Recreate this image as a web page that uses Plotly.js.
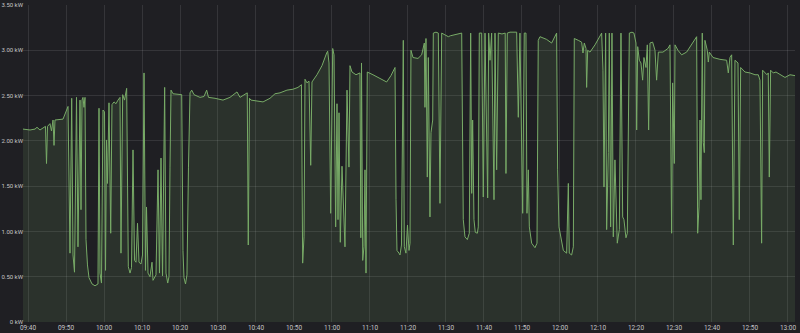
<!DOCTYPE html>
<html><head><meta charset="utf-8">
<script src="https://cdn.plot.ly/plotly-3.0.1.min.js"></script>
<style>html,body{margin:0;padding:0;background:#1f1f23;overflow:hidden;} #chart{width:800px;height:333px;}</style>
</head><body><div id="chart"></div>
<script>
const day = "2024-01-01 ";
const times = [
"09:38:41","09:40:32","09:41:51","09:42:22","09:43:09","09:44:13","09:44:36","09:44:52","09:45:08","09:45:47",
"09:46:11","09:46:35","09:46:51","09:47:06","09:49:13","09:50:32","09:51:03","09:51:30","09:51:51","09:52:14",
"09:52:46","09:53:09","09:53:41","09:53:57","09:54:13","09:54:28","09:54:44","09:55:00","09:55:16","09:55:39",
"09:56:03","09:56:51","09:57:38","09:58:25","09:58:41","09:58:57","09:59:20","09:59:44","10:00:08","10:00:24",
"10:00:39","10:00:55","10:01:19","10:01:46","10:02:06","10:02:38","10:03:09","10:03:41","10:04:13","10:04:28",
"10:04:55","10:05:24","10:05:58","10:06:24","10:06:51","10:07:14","10:07:38","10:08:02","10:08:25","10:08:49",
"10:09:13","10:09:44","10:10:08","10:10:32","10:10:55","10:11:11","10:11:35","10:12:06","10:12:38","10:12:54",
"10:13:41","10:14:13","10:14:36","10:15:00","10:15:24","10:15:58","10:16:19","10:16:46","10:17:06","10:17:22",
"10:17:38","10:18:10","10:19:28","10:20:27","10:20:47","10:21:03","10:21:27","10:21:50","10:22:14","10:22:38",
"10:23:05","10:23:41","10:25:16","10:26:19","10:27:01","10:27:30","10:29:13","10:31:19","10:33:09","10:35:00",
"10:35:47","10:37:42","10:37:58","10:38:17","10:38:41","10:40:11","10:41:51","10:43:41","10:45:00","10:46:19",
"10:48:09","10:49:44","10:51:03","10:51:58","10:52:17","10:52:38","10:52:54","10:53:25","10:53:57","10:54:24",
"10:54:44","10:56:03","10:57:22","10:58:36","10:58:52","10:59:13","10:59:39","11:00:11","11:00:32","11:00:58",
"11:01:19","11:01:35","11:01:51","11:02:11","11:02:38","11:03:25","11:03:57","11:04:28","11:04:44","11:05:16",
"11:06:19","11:07:22","11:07:35","11:07:46","11:08:05","11:08:25","11:08:41","11:08:57","11:09:17","11:10:47",
"11:12:38","11:14:23","11:15:31","11:16:35","11:16:51","11:17:06","11:17:38","11:17:54","11:18:17","11:18:46",
"11:19:02","11:19:28","11:19:52","11:20:16","11:20:32","11:20:47","11:21:19","11:22:38","11:23:36","11:24:02",
"11:24:18","11:24:28","11:24:44","11:25:05","11:25:21","11:25:47","11:26:03","11:26:30","11:26:40","11:27:22",
"11:27:59","11:28:25","11:28:52","11:29:44","11:30:37","11:31:08","11:32:22","11:34:08","11:34:33","11:35:00",
"11:35:37","11:36:08","11:36:30","11:36:46","11:37:01","11:37:22","11:37:43","11:38:15","11:38:30","11:38:46",
"11:39:24","11:39:49","11:40:16","11:40:42","11:40:58","11:41:14","11:41:35","11:42:01","11:42:17","11:42:38",
"11:42:54","11:43:20","11:43:46","11:44:44","11:45:35","11:45:47","11:46:08","11:46:51","11:48:36","11:49:02","11:49:28",
"11:50:11","11:50:36","11:51:03","11:51:19","11:51:40","11:51:56","11:52:33","11:53:25","11:53:57","11:54:17",
"11:54:44","11:56:29","11:57:48","11:59:07","11:59:23","11:59:44","12:00:11","12:00:53","12:01:45","12:02:12",
"12:02:27","12:03:04","12:03:31","12:03:46","12:04:49","12:05:42","12:06:03","12:06:24","12:06:51","12:07:01",
"12:07:17","12:07:54","12:09:13","12:10:32","12:10:58","12:11:19","12:11:35","12:12:01","12:12:17","12:12:43",
"12:12:59","12:13:20","12:13:41","12:14:02","12:14:28","12:15:05","12:15:37","12:16:03","12:16:30","12:16:50",
"12:17:22","12:17:43","12:17:59","12:18:15","12:18:57","12:19:28","12:20:00","12:20:11","12:20:27","12:20:53",
"12:21:19","12:21:45","12:22:06","12:22:38","12:22:59","12:23:20","12:23:41","12:24:23","12:25:00","12:25:26",
"12:25:53","12:27:06","12:28:25","12:28:57","12:29:23","12:29:39","12:30:05","12:30:16","12:31:03","12:32:01",
"12:33:20","12:35:05","12:35:58","12:36:14","12:36:35","12:36:51","12:37:06","12:37:27","12:37:43","12:37:59",
"12:38:09","12:38:46","12:39:02","12:39:18","12:40:16","12:42:06","12:43:52","12:44:18","12:44:44","12:45:11",
"12:45:26","12:45:37","12:46:03","12:46:51","12:47:11","12:47:33","12:48:41","12:50:00","12:51:19","12:52:11",
"12:52:38","12:53:04","12:53:20","12:53:57","12:54:28","12:54:49","12:55:05","12:55:26","12:56:08","12:56:51",
"12:57:54","12:59:13","13:00:32","13:01:51"
];
const powerKW = [
2.13,2.12,2.13,2.15,2.12,2.15,2.16,1.75,2.16,2.19,
2.11,2.23,1.95,2.23,2.24,2.38,0.76,2.47,0.74,0.55,
2.48,0.83,2.45,1.24,2.45,2.48,2.37,2.48,0.91,0.63,
0.49,0.42,0.40,0.42,2.36,0.54,0.43,2.34,2.32,0.57,
2.01,1.53,2.42,0.98,2.40,2.43,2.41,2.45,2.48,0.76,
2.51,2.45,2.58,0.61,0.54,0.60,1.90,0.68,0.66,1.09,
0.66,0.64,0.74,2.75,0.57,1.27,0.54,0.50,0.66,0.46,
0.52,1.68,0.54,1.81,0.51,2.59,0.54,0.43,0.50,1.71,
2.56,2.52,2.51,2.51,0.79,0.49,0.42,0.52,1.71,2.53,
2.56,2.51,2.48,2.49,2.56,2.48,2.47,2.45,2.48,2.54,
2.48,2.53,0.85,2.47,2.45,2.44,2.43,2.47,2.52,2.53,
2.56,2.57,2.59,2.62,0.65,0.94,2.68,2.64,2.66,1.73,
2.65,2.73,2.83,2.97,2.99,2.86,1.20,3.02,2.95,1.05,
2.41,1.13,2.31,0.88,1.72,0.83,2.56,1.71,2.83,2.76,
2.73,2.75,0.93,2.86,0.68,0.83,1.68,0.54,2.76,2.73,
2.69,2.65,2.72,2.81,1.35,0.79,0.76,0.74,0.85,3.11,
0.83,0.76,1.07,0.79,0.87,3.00,2.92,2.91,2.95,3.02,
3.08,2.37,3.13,1.60,2.92,1.16,2.09,2.23,3.19,3.20,
3.19,1.31,3.19,3.17,3.15,3.16,3.17,3.19,1.13,0.94,
0.91,0.98,3.19,1.42,2.23,1.13,0.99,0.98,1.05,3.19,
3.19,1.38,3.19,1.87,1.37,3.19,2.89,3.19,2.23,1.35,
3.19,1.68,3.19,3.18,3.19,1.64,3.19,3.20,3.20,2.26,3.19,
1.20,3.19,3.19,1.20,1.68,1.05,0.87,0.82,0.87,3.11,
3.15,3.12,3.08,3.19,1.68,1.05,0.94,0.79,0.76,1.53,
0.76,0.74,0.83,3.13,3.11,3.09,2.97,3.08,3.02,2.59,
3.00,2.98,3.06,3.15,3.19,2.78,1.49,3.19,1.02,1.87,
3.19,1.05,3.19,0.94,1.79,0.87,1.02,3.19,1.16,1.13,
0.93,0.98,2.34,3.19,3.20,3.19,3.08,2.12,3.04,2.89,
2.86,2.67,2.92,2.81,3.06,2.12,3.08,3.09,3.00,2.67,
2.98,2.98,3.02,3.06,0.98,2.64,1.75,3.06,3.00,2.95,
2.98,3.09,3.15,0.98,1.27,2.23,1.35,3.19,1.98,1.87,
3.11,3.00,2.87,2.98,2.92,2.90,2.89,2.75,2.92,2.95,
1.24,0.85,2.89,2.86,1.13,2.81,2.76,2.75,2.73,2.73,
2.67,0.87,2.78,2.75,2.73,2.75,1.60,2.78,2.75,2.76,
2.73,2.70,2.73,2.72
];
const yTickVals = [0, 0.5, 1, 1.5, 2, 2.5, 3, 3.5];
const yTickText = ["0 kW", "0.50 kW", "1.00 kW", "1.50 kW", "2.00 kW", "2.50 kW", "3.00 kW", "3.50 kW"];
const xRange = ["09:38:41", "13:01:51"];

const trace = {
  type: "scatter", mode: "lines",
  x: times.map(t => day + t), y: powerKW,
  line: {color: "#78ab67", width: 1},
  fill: "tozeroy", fillcolor: "rgba(126,178,109,0.13)",
  hoverinfo: "skip"
};
const grid = "rgba(255,255,255,0.10)";
const layout = {
  width: 800, height: 333,
  margin: {l: 23, r: 5, t: 5, b: 11},
  paper_bgcolor: "#1f1f23", plot_bgcolor: "#1f1f23",
  font: {family: "Roboto, sans-serif", size: 6, color: "#c4c4c6"},
  showlegend: false,
  xaxis: {
    type: "date", range: xRange.map(t => day + t),
    tickformat: "%H:%M", tick0: day + "09:40:00", dtick: 600000,
    showgrid: true, gridcolor: grid, gridwidth: 1,
    zeroline: false, showline: false, ticks: "", automargin: false,
    tickfont: {size: 6.5, color: "#c4c4c6"}
  },
  yaxis: {
    range: [0, 3.5], tickmode: "array", tickvals: yTickVals, ticktext: yTickText,
    showgrid: true, gridcolor: grid, gridwidth: 1,
    zeroline: false, showline: false, ticks: "", automargin: false,
    ticklabelstandoff: -1,
    tickfont: {size: 6, color: "#c4c4c6"}
  }
};
Plotly.newPlot("chart", [trace], layout, {displayModeBar: false, staticPlot: true});
</script>
</body></html>
